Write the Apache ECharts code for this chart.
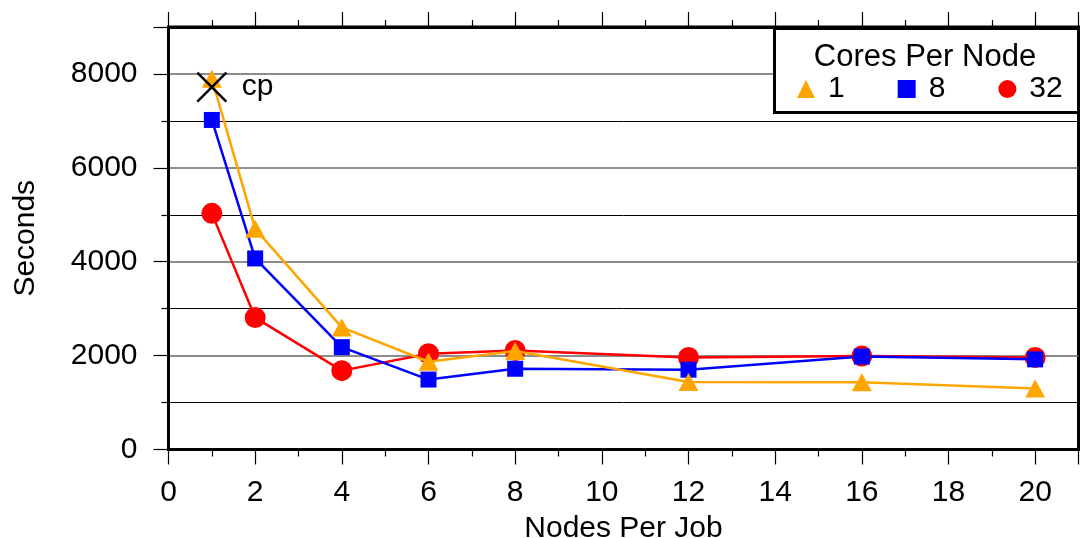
<!DOCTYPE html>
<html>
<head>
<meta charset="utf-8">
<script src="https://cdn.jsdelivr.net/npm/echarts@6/dist/echarts.min.js"></script>
<style>
  html, body { margin: 0; padding: 0; background: #fff; }
  #chart { width: 1080px; height: 538px; }
</style>
</head>
<body>
<div id="chart"></div>
<script>
// Job runtime versus nodes per job, for three core counts per node
const nodesPerJob = [1, 2, 4, 6, 8, 12, 16, 20];
const cores1 = [7900, 4700, 2600, 1870, 2100, 1440, 1430, 1300];
const cores8 = [7020, 4070, 2180, 1490, 1720, 1700, 1980, 1920];
const cores32 = [5030, 2810, 1680, 2040, 2110, 1960, 1990, 1960];
const seriesNames = ['1', '8', '32'];
const cpPoint = [1, 7720];
const cpLabel = 'cp';
const legendTitle = 'Cores Per Node';
const xTitle = 'Nodes Per Job';
const yTitle = 'Seconds';

const FONT = 'Liberation Sans, Arial, sans-serif';
const FS = 30;
const pairs = (ys) => nodesPerJob.map((x, i) => [x, ys[i]]);

const chart = echarts.init(document.getElementById('chart'), null, { renderer: 'canvas' });

const xCommon = {
  type: 'value', min: 0, max: 21, interval: 2,
  axisLine: { show: true, onZero: false, lineStyle: { color: '#000', width: 3 } },
  axisTick: { show: true, inside: false, length: 15, lineStyle: { color: '#000', width: 1.2 } },
  minorTick: { show: true, splitNumber: 2, length: 7, lineStyle: { color: '#000', width: 1.2 } },
  splitLine: { show: false }
};

const lineSeries = (name, data, color, symbol, size, z) => ({
  name, type: 'line', data: pairs(data),
  symbol, symbolSize: size, z,
  lineStyle: { color, width: 2.5 },
  itemStyle: { color, opacity: 1 },
  emphasis: { disabled: true },
  animation: false
});

chart.setOption({
  animation: false,
  textStyle: { fontFamily: FONT },
  grid: {
    left: 168.5, right: 1.5, top: 27, bottom: 88.5,
    outerBoundsMode: 'none',
    containLabel: false,
    show: true, borderColor: '#000', borderWidth: 3, backgroundColor: '#fff'
  },
  xAxis: [
    Object.assign({}, xCommon, {
      position: 'bottom',
      name: xTitle, nameLocation: 'middle', nameGap: 64,
      nameTextStyle: { fontSize: FS, color: '#000', fontFamily: FONT },
      axisLabel: {
        show: true, margin: 28, fontSize: FS, color: '#000', fontFamily: FONT,
        formatter: (v) => (v <= 20 ? String(v) : '')
      }
    }),
    Object.assign({}, xCommon, {
      position: 'top',
      axisLabel: { show: false }
    })
  ],
  yAxis: {
    type: 'value', min: 0, max: 9000, interval: 2000,
    name: yTitle, nameLocation: 'middle', nameGap: 128, nameRotate: 90,
    nameTextStyle: { fontSize: FS, color: '#000', fontFamily: FONT },
    axisLine: { show: true, lineStyle: { color: '#000', width: 3 } },
    axisTick: { show: true, inside: false, length: 15, lineStyle: { color: '#000', width: 1.2 } },
    minorTick: { show: true, splitNumber: 2, length: 7, lineStyle: { color: '#000', width: 1.2 } },
    axisLabel: {
      margin: 31, fontSize: FS, color: '#000', fontFamily: FONT,
      formatter: (v) => (v <= 8000 ? String(v) : '')
    },
    splitLine: { show: true, lineStyle: { color: '#666', width: 1.5 } },
    minorSplitLine: { show: true, lineStyle: { color: '#000', width: 1 } }
  },
  legend: {
    show: true,
    left: 797, top: 74,
    padding: 0,
    itemWidth: 18, itemHeight: 18, itemGap: 53,
    data: [
      { name: '1', icon: 'triangle' },
      { name: '8', icon: 'rect' },
      { name: '32', icon: 'circle' }
    ],
    textStyle: { fontSize: FS, color: '#000', fontFamily: FONT, padding: [0, 0, 0, 8] },
    selectedMode: false,
    z: 10
  },
  graphic: {
    elements: [
      {
        type: 'rect', left: 773, top: 27, z: 8,
        shape: { width: 304, height: 84 },
        style: { fill: '#fff', stroke: '#000', lineWidth: 3 }
      },
      {
        type: 'text', z: 9,
        x: 925, y: 57,
        style: {
          text: legendTitle, fill: '#000', font: '31px ' + FONT,
          textAlign: 'center', textVerticalAlign: 'middle'
        }
      }
    ]
  },
  series: [
    lineSeries(seriesNames[2], cores32, '#ff0000', 'circle', 21, 2),
    lineSeries(seriesNames[1], cores8, '#0000ff', 'rect', 16, 3),
    lineSeries(seriesNames[0], cores1, '#ffa500', 'triangle', [20, 18], 4),
    {
      name: cpLabel, type: 'scatter', data: [cpPoint], z: 6,
      symbol: 'path://M0,0L10,10M10,0L0,10', symbolSize: 29,
      itemStyle: { color: 'none', borderColor: '#000', borderWidth: 2.5, opacity: 1 },
      label: {
        show: true, position: 'right', distance: 13,
        formatter: cpLabel, fontSize: FS, color: '#000', fontFamily: FONT
      },
      emphasis: { disabled: true },
      animation: false
    }
  ]
});
</script>
</body>
</html>
